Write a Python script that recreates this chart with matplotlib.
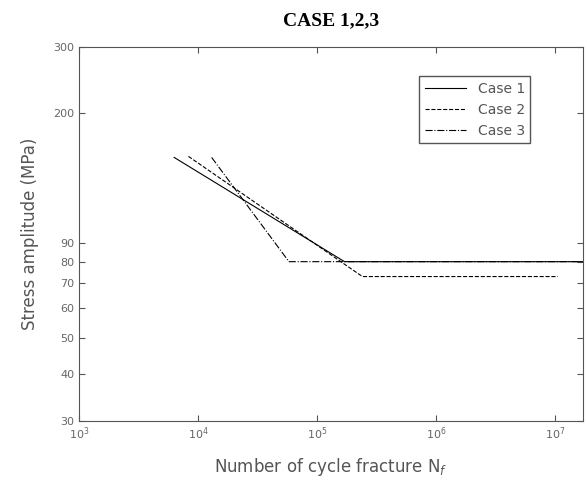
import matplotlib.pyplot as plt
from matplotlib.ticker import FixedLocator, NullLocator, FixedFormatter

# S-N curves (cycles to fracture, stress amplitude in MPa)
n_case1 = [6.3e3, 1.7e5, 1.7e7]
s_case1 = [152, 80, 80]

n_case2 = [8.3e3, 2.4e5, 1.05e7]
s_case2 = [153, 73, 73]

n_case3 = [1.3e4, 5.8e4, 1.7e7]
s_case3 = [152, 80, 80]

yticks = [30, 40, 50, 60, 70, 80, 90, 200, 300]
xticks = [1e3, 1e4, 1e5, 1e6, 1e7]
xticklabels = ['$10^3$', '$10^4$', '$10^5$', '$10^6$', '$10^7$']

fig = plt.figure(figsize=(5.87, 4.84), dpi=100)
ax = fig.add_axes([0.1346, 0.1302, 0.858, 0.7727])

ax.loglog(n_case1, s_case1, '-', color='black', lw=0.8, label='Case 1')
ax.loglog(n_case2, s_case2, '--', color='black', lw=0.8, label='Case 2')
ax.loglog(n_case3, s_case3, '-.', color='black', lw=0.8, label='Case 3')

ax.set_xlim(1e3, 1.7e7)
ax.set_ylim(30, 300)

ax.yaxis.set_major_locator(FixedLocator(yticks))
ax.yaxis.set_major_formatter(FixedFormatter([str(v) for v in yticks]))
ax.yaxis.set_minor_locator(NullLocator())
ax.xaxis.set_major_locator(FixedLocator(xticks))
ax.xaxis.set_major_formatter(FixedFormatter(xticklabels))
ax.xaxis.set_minor_locator(NullLocator())

ax.tick_params(direction='in', length=4, width=0.8, colors='#555555',
               labelsize=8, labelcolor='#666666', top=True, right=True)
for sp in ax.spines.values():
    sp.set_color('#555555')
    sp.set_linewidth(0.8)

ax.set_title('CASE 1,2,3', fontfamily='Liberation Serif', fontweight='bold',
             fontsize=14, pad=16)
ax.set_xlabel('Number of cycle fracture N$_f$', fontsize=12, color='#555555',
              labelpad=10)
ax.set_ylabel('Stress amplitude (MPa)', fontsize=12, color='#555555',
              labelpad=10)

leg = ax.legend(loc='upper right', bbox_to_anchor=(0.91, 0.94), fontsize=10,
                fancybox=False, framealpha=1, edgecolor='#555555',
                handlelength=3.0)
for t in leg.get_texts():
    t.set_color('#555555')

fig.savefig('out.png', dpi=100)
